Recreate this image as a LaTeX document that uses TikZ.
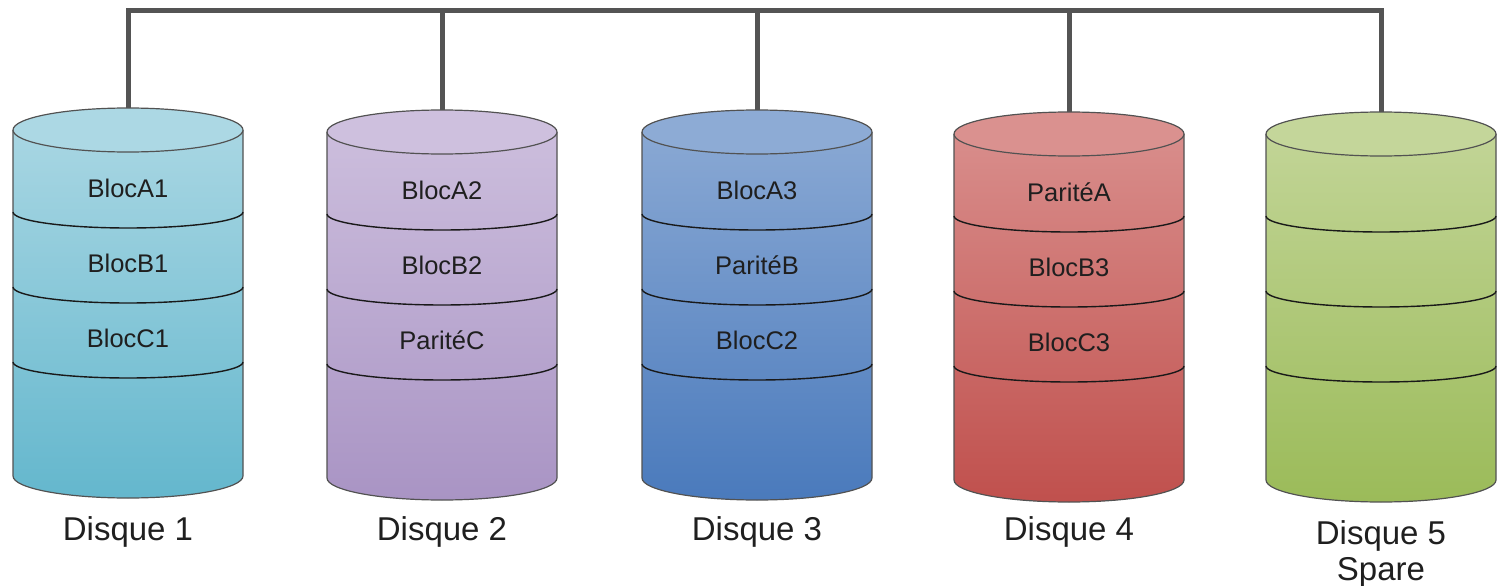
\documentclass[tikz,border=0pt]{standalone}
\usepackage{fontspec}
\setmainfont{Liberation Sans}
\begin{document}
\begin{tikzpicture}[x=1pt,y=1pt,
  bus/.style={draw=black!67, line width=5pt, line join=miter},
  outline/.style={draw=black!68, line width=1.2pt},
  divider/.style={draw=black!90, line width=1.4pt},
  bloc/.style={font=\fontsize{25.5}{28}\selectfont, text=black!88, inner sep=0pt},
  disklabel/.style={font=\fontsize{33}{36}\selectfont, text=black!88, inner sep=0pt, align=center}]
\definecolor{c1t}{HTML}{ACD8E4}\definecolor{c1b}{HTML}{64B7CD}
\definecolor{c2t}{HTML}{CEC0DE}\definecolor{c2b}{HTML}{A994C4}
\definecolor{c3t}{HTML}{8DABD5}\definecolor{c3b}{HTML}{4A7ABC}
\definecolor{c4t}{HTML}{DA918F}\definecolor{c4b}{HTML}{C0504D}
\definecolor{c5t}{HTML}{C4D69A}\definecolor{c5b}{HTML}{9BBB59}
\useasboundingbox (0,-586) rectangle (1505,0);
% cylinders: index, centre x, y offset, three block texts
\foreach \i/\cx/\dy/\ta/\tb/\tc in {1/128/0/BlocA1/BlocB1/BlocC1,
                                    2/442/2/BlocA2/BlocB2/ParitéC,
                                    3/757/2/BlocA3/ParitéB/BlocC2,
                                    4/1069/4/ParitéA/BlocB3/BlocC3,
                                    5/1381/4///} {
  \pgfmathsetmacro{\yt}{-130-\dy}
  \pgfmathsetmacro{\yb}{-476-\dy}
  \shade[top color=c\i t, bottom color=c\i b]
    (\cx-115,\yt) -- (\cx-115,\yb)
    arc[start angle=180, end angle=360, x radius=115, y radius=22]
    -- (\cx+115,\yt)
    arc[start angle=0, end angle=180, x radius=115, y radius=22] -- cycle;
  \draw[outline] (\cx-115,\yt) -- (\cx-115,\yb)
    arc[start angle=180, end angle=360, x radius=115, y radius=22]
    -- (\cx+115,\yt);
  \draw[outline, fill=c\i t] (\cx,\yt) ellipse[x radius=115, y radius=22];
  \foreach \s in {212,287,362} {
    \draw[divider] (\cx-115,-\s-\dy)
      arc[start angle=180, end angle=360, x radius=115, y radius=16];
  }
  \coordinate (d\i top) at (\cx,\yt+22);
  \coordinate (b\i) at (\cx,-11);
  \node[bloc] (t\i a) at (\cx,-188-\dy) {\ta};
  \node[bloc] (t\i b) at (\cx,-263-\dy) {\tb};
  \node[bloc] (t\i c) at (\cx,-338-\dy) {\tc};
}
\node[disklabel] (l1) at (128,-532) {Disque 1};
\node[disklabel] (l2) at (442,-532) {Disque 2};
\node[disklabel] (l3) at (757,-532) {Disque 3};
\node[disklabel] (l4) at (1069,-532) {Disque 4};
\node[disklabel, anchor=north] (l5) at (1381,-520) {Disque 5\\Spare};
% bus
\draw[bus] (d1top) -- (b1) -- (b5) -- (d5top);
\foreach \i in {2,3,4} { \draw[bus] (b\i) -- (d\i top); }
\end{tikzpicture}
\end{document}
